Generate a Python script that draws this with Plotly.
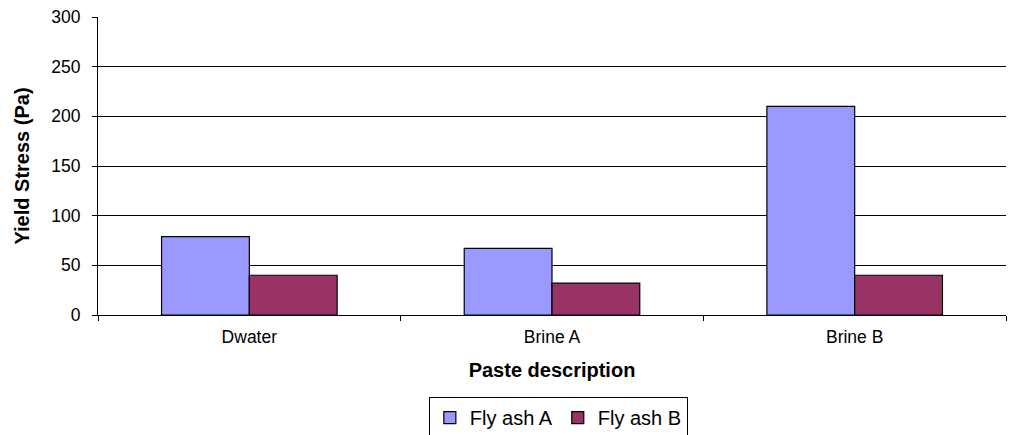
import plotly.graph_objects as go

# Yield stress of pastes by mixing liquid
categories = ["Dwater", "Brine A", "Brine B"]
fly_ash_a = [79, 67, 210]
fly_ash_b = [40, 32, 40]
y_ticks = [0, 50, 100, 150, 200, 250, 300]

FONT = "Liberation Sans, Arial, sans-serif"

fig = go.Figure()
fig.add_trace(go.Bar(
    name="Fly ash A", x=categories, y=fly_ash_a,
    marker=dict(color="#9999FF", line=dict(color="black", width=1.2)),
))
fig.add_trace(go.Bar(
    name="Fly ash B", x=categories, y=fly_ash_b,
    marker=dict(color="#993366", line=dict(color="black", width=1.2)),
))

fig.update_layout(
    width=1012, height=435,
    margin=dict(l=98, r=6, t=17, b=120, autoexpand=False),
    paper_bgcolor="white", plot_bgcolor="white",
    barmode="group", bargap=0.42, bargroupgap=0,
    font=dict(family=FONT, size=17, color="black"),
    showlegend=True,
    legend=dict(
        orientation="h", x=0.507, xanchor="center",
        yref="container", y=0.087, yanchor="top",
        bordercolor="black", borderwidth=1, bgcolor="white",
        font=dict(family=FONT, size=20, color="black"),
        itemwidth=30, tracegroupgap=0,
    ),
)

fig.update_xaxes(
    title=dict(text="<b>Paste description</b>", font=dict(family=FONT, size=20), standoff=16),
    showline=True, linecolor="black", linewidth=1,
    ticks="outside", ticklen=5, tickcolor="black", tickson="boundaries",
    ticklabelstandoff=6,
    showgrid=False, tickfont=dict(family=FONT, size=17.5),
)
fig.update_yaxes(
    title=dict(text="<b>Yield Stress (Pa)</b>", font=dict(family=FONT, size=20), standoff=16),
    range=[0, 300], tickvals=y_ticks,
    showline=True, linecolor="black", linewidth=1,
    ticks="outside", ticklen=5, tickcolor="black",
    ticklabelstandoff=8,
    showgrid=True, gridcolor="black", gridwidth=1,
    zeroline=False, tickfont=dict(family=FONT, size=17.5),
)

fig.write_html("out.html")
